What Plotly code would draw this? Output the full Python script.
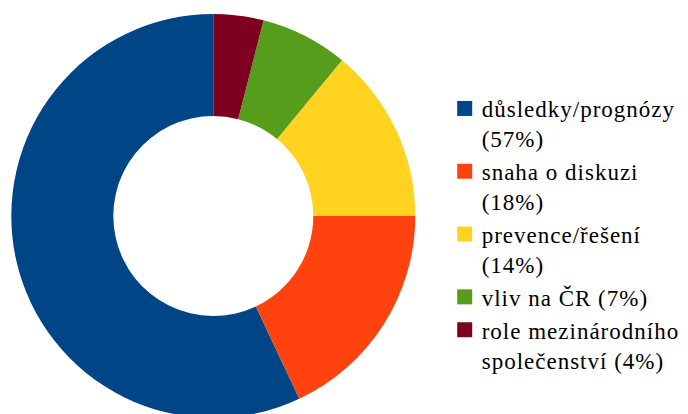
import plotly.graph_objects as go

categories = ["důsledky/prognózy", "snaha o diskuzi", "prevence/řešení",
              "vliv na ČR", "role mezinárodního společenství"]
values = [57, 18, 14, 7, 4]
# how each legend label wraps in the reference
label_lines = [
    ["důsledky/prognózy", "(57%)"],
    ["snaha o diskuzi", "(18%)"],
    ["prevence/řešení", "(14%)"],
    ["vliv na ČR (7%)"],
    ["role mezinárodního", "společenství (4%)"],
]
colors = ["#004586", "#ff420e", "#ffd320", "#579d1c", "#7e0021"]

W, H = 688, 420
FONT = "Liberation Serif"
labels = ["<br>".join(lines) for lines in label_lines]

cx, cy, r = 213.3, 216.0, 202.0
# first slice starts at 12 o'clock and runs counterclockwise
rot = 360.0 - values[0] / sum(values) * 360.0

fig = go.Figure(go.Pie(
    labels=labels,
    values=values,
    hole=0.495,
    sort=False,
    direction="counterclockwise",
    rotation=rot,
    textinfo="none",
    hoverinfo="skip",
    marker=dict(colors=colors, line=dict(width=0)),
    domain=dict(x=[(cx - r) / W, (cx + r) / W],
                y=[(H - cy - r) / H, (H - cy + r) / H]),
))

fig.update_layout(
    width=W, height=H,
    margin=dict(l=0, r=0, t=0, b=0),
    paper_bgcolor="white",
    plot_bgcolor="white",
    font=dict(family=FONT, size=23, color="black"),
    showlegend=True,
    legend=dict(
        x=441.7 / W, xanchor="left",
        y=1 - 87 / H, yanchor="top",
        valign="top",
        font=dict(family=FONT, size=23, color="black"),
        bgcolor="rgba(0,0,0,0)",
        borderwidth=0,
        tracegroupgap=0,
    ),
)

post = """
document.documentElement.style.overflow='hidden';
document.body.style.margin='0';
document.body.style.overflow='hidden';
document.querySelectorAll('path.legendpie').forEach(function(p){
  p.setAttribute('d','M10.5,7.5H-4.5V-7.5H10.5Z');
});
document.querySelectorAll('text.legendtext').forEach(function(t){
  t.style.setProperty('font-family', "'Liberation Serif'", 'important');
  t.style.setProperty('letter-spacing', '1px');
  t.querySelectorAll('tspan').forEach(function(s){
    s.style.setProperty('font-family', "'Liberation Serif'", 'important');
  });
});
document.querySelectorAll('g.legend [clip-path], g.legend').forEach(function(g){
  g.removeAttribute('clip-path');
});
"""

fig.write_html("out.html", post_script=post, config={"displayModeBar": False})
